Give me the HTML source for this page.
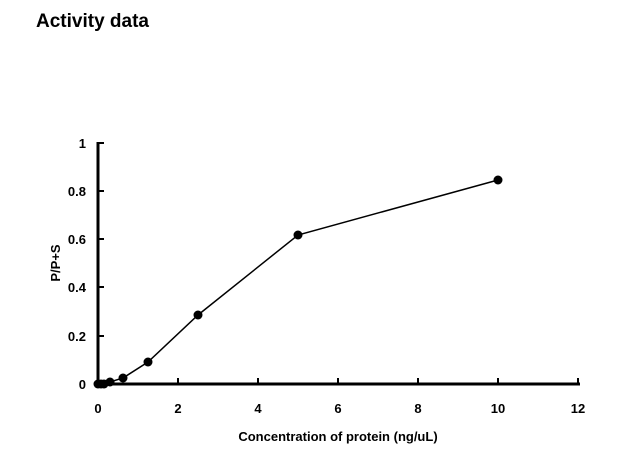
<!DOCTYPE html><html><head><style>body{margin:0;background:#fff}svg{display:block}text{font-family:"Liberation Sans",Arial,sans-serif;font-weight:bold;fill:#000}</style></head><body>
<svg width="636" height="461" viewBox="0 0 636 461">
<text x="36" y="27" font-size="19">Activity data</text>
<g stroke="#000" stroke-width="3" fill="none">
<line x1="98" y1="142" x2="98" y2="385"/>
<line x1="97" y1="384" x2="580" y2="384"/>
</g>
<g stroke="#000" stroke-width="2">
<line x1="98" y1="191" x2="104" y2="191"/><line x1="98" y1="239" x2="104" y2="239"/><line x1="98" y1="287" x2="104" y2="287"/><line x1="98" y1="336" x2="104" y2="336"/><line x1="98" y1="143" x2="104" y2="143"/>
<line x1="178" y1="384" x2="178" y2="378"/><line x1="258" y1="384" x2="258" y2="378"/><line x1="338" y1="384" x2="338" y2="378"/><line x1="418" y1="384" x2="418" y2="378"/><line x1="498" y1="384" x2="498" y2="378"/><line x1="578" y1="384" x2="578" y2="378"/>
</g>
<g font-size="13" text-anchor="end">
<text x="86" y="389">0</text><text x="86" y="341">0.2</text><text x="86" y="292">0.4</text><text x="86" y="244">0.6</text><text x="86" y="196">0.8</text><text x="86" y="148">1</text>
</g>
<g font-size="13" text-anchor="middle">
<text x="98" y="413">0</text><text x="178" y="413">2</text><text x="258" y="413">4</text><text x="338" y="413">6</text><text x="418" y="413">8</text><text x="498" y="413">10</text><text x="578" y="413">12</text>
<text x="338" y="441">Concentration of protein (ng/uL)</text>
<text transform="translate(60 263) rotate(-90)">P/P+S</text>
</g>
<polyline fill="none" stroke="#000" stroke-width="1.5" points="98,384 101,384 104,384 110,382 123,378 148,362 198,315 298,235 498,180"/>
<g fill="#000">
<circle cx="98" cy="384" r="4.5"/><circle cx="101" cy="384" r="4.5"/><circle cx="104" cy="384" r="4.5"/><circle cx="110" cy="382" r="4.5"/><circle cx="123" cy="378" r="4.5"/><circle cx="148" cy="362" r="4.5"/><circle cx="198" cy="315" r="4.5"/><circle cx="298" cy="235" r="4.5"/><circle cx="498" cy="180" r="4.5"/>
</g>
</svg></body></html>
